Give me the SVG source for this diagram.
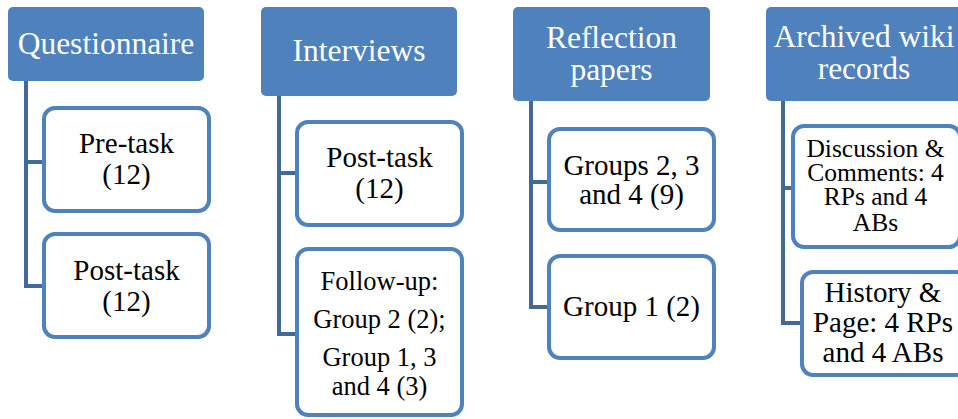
<svg xmlns="http://www.w3.org/2000/svg" width="958" height="419" viewBox="0 0 958 419">
  <style>
    text { font-family: "Liberation Serif", Tinos, "Noto Serif", "DejaVu Serif", "Times New Roman", Times, serif; text-anchor: middle; }
    .hdr { fill: #4F81BD; }
    .hdr-t { fill: #ffffff; font-size: 31.5px; }
    .box { fill: #ffffff; stroke: #4F81BD; stroke-width: 4; }
    .box-t { fill: #000000; font-size: 29px; }
    .sm { font-size: 26.5px; }
    .xs { font-size: 25.5px; }
    .link { fill: none; stroke: #41699A; stroke-width: 4; stroke-linejoin: miter; }
  </style>

  <!-- connectors: trunk from each header with branches into its children -->
  <g id="connectors">
    <path class="link" d="M26 81 V286 H44 M26 162 H44"/>
    <path class="link" d="M279 96 V334 H297 M279 173 H297"/>
    <path class="link" d="M531 101 V307 H549 M531 182 H549"/>
    <path class="link" d="M783 101 V323 H801 M783 188 H793"/>
  </g>

  <!-- column 1 -->
  <g id="questionnaire">
    <rect class="hdr" x="8" y="7" width="196" height="74" rx="5"/>
    <text class="hdr-t" x="106" y="54">Questionnaire</text>
  </g>
  <g id="q-pretask">
    <rect class="box" x="44" y="108" width="165" height="103" rx="11"/>
    <text class="box-t" x="126.5" y="153">Pre-task</text>
    <text class="box-t" x="126.5" y="184">(12)</text>
  </g>
  <g id="q-posttask">
    <rect class="box" x="44" y="234" width="165" height="103" rx="11"/>
    <text class="box-t" x="126.5" y="280">Post-task</text>
    <text class="box-t" x="126.5" y="311">(12)</text>
  </g>

  <!-- column 2 -->
  <g id="interviews">
    <rect class="hdr" x="261" y="7" width="196" height="89" rx="5"/>
    <text class="hdr-t" x="359" y="61">Interviews</text>
  </g>
  <g id="i-posttask">
    <rect class="box" x="297" y="122" width="165" height="103" rx="11"/>
    <text class="box-t" x="379.5" y="167">Post-task</text>
    <text class="box-t" x="379.5" y="198">(12)</text>
  </g>
  <g id="i-followup">
    <rect class="box" x="297" y="249" width="165" height="166" rx="11"/>
    <text class="box-t sm" x="379.5" y="290">Follow-up:</text>
    <text class="box-t sm" x="379.5" y="328">Group 2 (2);</text>
    <text class="box-t sm" x="379.5" y="366">Group 1, 3</text>
    <text class="box-t sm" x="379.5" y="395">and 4 (3)</text>
  </g>

  <!-- column 3 -->
  <g id="reflection">
    <rect class="hdr" x="513" y="7" width="197" height="94" rx="5"/>
    <text class="hdr-t" x="611.5" y="48">Reflection</text>
    <text class="hdr-t" x="611.5" y="80">papers</text>
  </g>
  <g id="r-groups234">
    <rect class="box" x="549" y="129" width="165" height="101" rx="11"/>
    <text class="box-t" x="631.5" y="175">Groups 2, 3</text>
    <text class="box-t" x="631.5" y="204">and 4 (9)</text>
  </g>
  <g id="r-group1">
    <rect class="box" x="549" y="256" width="165" height="102" rx="11"/>
    <text class="box-t" x="631.5" y="316">Group 1 (2)</text>
  </g>

  <!-- column 4 -->
  <g id="wiki">
    <rect class="hdr" x="766" y="7" width="198" height="94" rx="5"/>
    <text class="hdr-t" x="864" y="47">Archived wiki</text>
    <text class="hdr-t" x="864" y="79">records</text>
  </g>
  <g id="w-discussion">
    <rect class="box" x="793" y="126" width="167" height="121" rx="11"/>
    <text class="box-t xs" x="875.5" y="157">Discussion &amp;</text>
    <text class="box-t xs" x="875.5" y="181">Comments: 4</text>
    <text class="box-t xs" x="875.5" y="205">RPs and 4</text>
    <text class="box-t xs" x="875.5" y="231">ABs</text>
  </g>
  <g id="w-history">
    <rect class="box" x="802" y="272" width="165" height="103" rx="11"/>
    <text class="box-t" x="883" y="302">History &amp;</text>
    <text class="box-t" x="883" y="332">Page: 4 RPs</text>
    <text class="box-t" x="883" y="362">and 4 ABs</text>
  </g>
</svg>
